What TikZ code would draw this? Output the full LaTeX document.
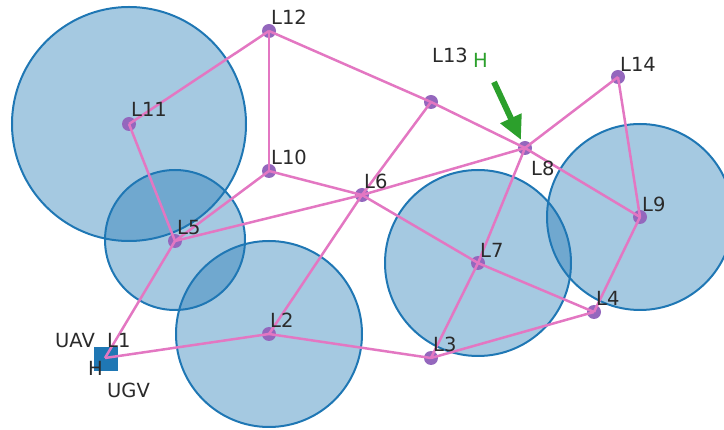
\documentclass[tikz,border=0pt]{standalone}
\usepackage{fontspec}
\setmainfont{DejaVu Sans}
\usetikzlibrary{arrows.meta}
\definecolor{tblue}{HTML}{1F77B4}
\definecolor{tpink}{HTML}{E377C2}
\definecolor{tpurple}{HTML}{9467BD}
\definecolor{tgreen}{HTML}{2CA02C}
\definecolor{txt}{HTML}{2A2A2A}
\tikzset{
  zone/.style={draw=tblue, line width=2pt, fill=tblue, fill opacity=0.4},
  wp/.style={circle, fill=tpurple, inner sep=0pt, minimum size=14pt},
  edge/.style={draw=tpink, line width=2.5pt},
  lbl/.style={anchor=base west, inner sep=0pt, text=txt, font=\fontsize{19.5}{23}\selectfont},
  sq/.style={fill=tblue, inner sep=0pt, minimum size=24pt},
}
\begin{document}
\begin{tikzpicture}[x=1pt,y=-1pt]
\useasboundingbox (0,0) rectangle (724,430);
\clip (0,0) rectangle (724,430);
% coverage circles
\draw[zone] (129,124) circle[radius=117];
\draw[zone] (175,240) circle[radius=70];
\draw[zone] (269,334) circle[radius=93];
\draw[zone] (478,263) circle[radius=93];
\draw[zone] (640,217) circle[radius=93];
% waypoints
\node[wp] (L1) at (105,358) {};
\node[wp] (L2) at (269,334) {};
\node[wp] (L3) at (431,358) {};
\node[wp] (L4) at (594,312) {};
\node[wp] (L5) at (175,241) {};
\node[wp] (L6) at (362,195) {};
\node[wp] (L7) at (478,263) {};
\node[wp] (L8) at (525,148) {};
\node[wp] (L9) at (640,217) {};
\node[wp] (L10) at (269,171) {};
\node[wp] (L11) at (129,124) {};
\node[wp] (L12) at (269,31) {};
\node[wp] (L13) at (431,102) {};
\node[wp] (L14) at (618,77) {};
% base square
\node[sq] (base) at (106,359) {};
% edges
\foreach \a/\b in {L1/L5, L1/L2, L5/L11, L11/L12, L12/L10, L12/L13, L13/L8,
  L10/L5, L10/L6, L5/L6, L6/L8, L6/L13, L6/L2, L6/L7, L7/L4, L7/L3, L7/L8,
  L8/L14, L8/L9, L14/L9, L9/L4, L4/L3, L3/L2}
  \draw[edge] (\a.center) -- (\b.center);
% labels
\node[lbl] (tUAV) at (55,348) {UAV};
\node[lbl] (tL1) at (107,348) {L1};
\node[lbl] (tH) at (88,376) {H};
\node[lbl] (tUGV) at (107,398) {UGV};
\node[lbl] (tL2) at (270,328) {L2};
\node[lbl] (tL3) at (433,352) {L3};
\node[lbl] (tL4) at (596,306) {L4};
\node[lbl] (tL5) at (177,235) {L5};
\node[lbl] (tL6) at (364,189) {L6};
\node[lbl] (tL7) at (480,258) {L7};
\node[lbl] (tL8) at (531,176) {L8};
\node[lbl] (tL9) at (642,212) {L9};
\node[lbl] (tL10) at (271,165) {L10};
\node[lbl] (tL11) at (131,117) {L11};
\node[lbl] (tL12) at (271,25) {L12};
\node[lbl] (tL13) at (432,63) {L13};
\node[lbl] (tL14) at (620,72) {L14};
\node[lbl, text=tgreen] (tGH) at (473,68) {H};
% green arrow
\coordinate (arrS) at (494,82);
\coordinate (arrE) at (521,140);
\draw[tgreen, line width=6pt, -{Triangle[length=24pt,width=22pt]}] (arrS) -- (arrE);
\end{tikzpicture}
\end{document}
